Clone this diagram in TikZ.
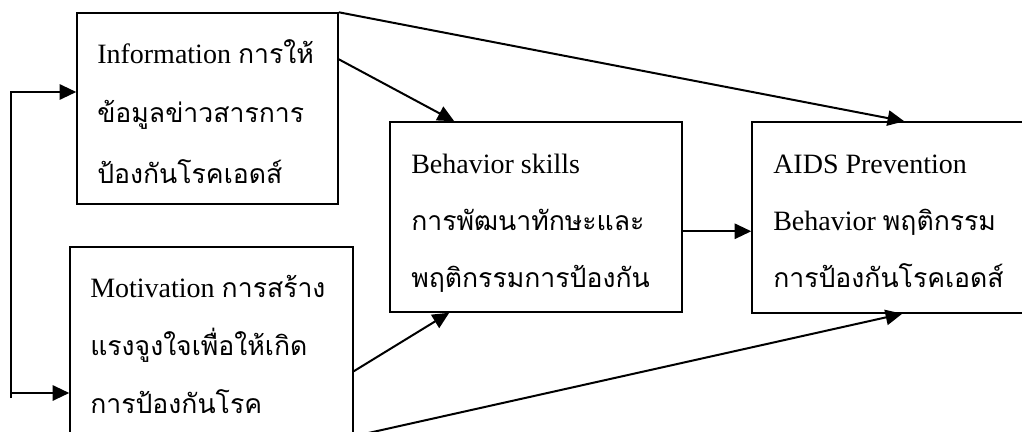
\documentclass[tikz,border=0pt]{standalone}
\usepackage{fontspec}
\setmainfont{Liberation Serif}
\newfontfamily\thai[Script=Thai,Scale=0.95]{Loma}
\usetikzlibrary{arrows.meta,calc}
\begin{document}
\begin{tikzpicture}[x=0.75pt,y=-0.75pt,
  box/.style={draw,line width=1.1pt,rectangle,inner sep=0pt},
  link/.style={line width=1.5pt,-{Triangle[length=12.5pt,width=11.5pt]}},
  txt/.style={anchor=base west,inner sep=0pt,font=\fontsize{21}{25}\selectfont}]
\useasboundingbox (0,0) rectangle (1022,432);
\clip (0,0) rectangle (1022,432);
% boxes
\node[box,minimum width=195.75pt,minimum height=143.25pt] (info) at (207.5,108.5) {};
\node[box,minimum width=212.25pt,minimum height=148.5pt] (motiv) at (211.5,346) {};
\node[box,minimum width=219pt,minimum height=142.5pt] (beh) at (536,217) {};
\node[box,minimum width=217.5pt,minimum height=143.25pt] (aids) at (897,217.5) {};
% texts
\node[txt] (i1) at (97,63) {Information {\thai การให้}};
\node[txt] (i2) at (97,122) {\thai ข้อมูลข่าวสารการ};
\node[txt] (i3) at (97,183) {\thai ป้องกันโรคเอดส์};
\node[txt] (m1) at (90,297) {Motivation {\thai การสร้าง}};
\node[txt] (m2) at (90,355) {\thai แรงจูงใจเพื่อให้เกิด};
\node[txt] (m3) at (90,413) {\thai การป้องกันโรค};
\node[txt] (b1) at (411,173) {Behavior skills};
\node[txt] (b2) at (411,230) {\thai การพัฒนาทักษะและ};
\node[txt] (b3) at (411,287) {\thai พฤติกรรมการป้องกัน};
\node[txt] (p1) at (773,173) {AIDS Prevention};
\node[txt] (p2) at (773,230) {Behavior {\thai พฤติกรรม}};
\node[txt] (p3) at (773,287) {\thai การป้องกันโรคเอดส์};
% connectors
\draw[link] (info.north east) -- ($(aids.north west)+(153,0)$);
\draw[link] ($(info.north east)+(0,47)$) -- ($(beh.north west)+(65,0)$);
\draw[link] ($(motiv.north east)+(0,125)$) -- ($(beh.south west)+(60,0)$);
\draw[link] ($(motiv.north east)+(0,190)$) -- ($(aids.south west)+(151,0)$);
\draw[link] ($(beh.north east)+(0,110)$) -- ($(aids.north west)+(0,110)$);
% feedback loop
\coordinate (fbtop) at (11,92);
\coordinate (fbbot) at (11,398);
\coordinate (fbmid) at (11,393);
\draw[link] (fbbot) -- (fbtop) -- (fbtop -| info.west);
\draw[link] (fbmid) -- (fbmid -| motiv.west);
\end{tikzpicture}
\end{document}
